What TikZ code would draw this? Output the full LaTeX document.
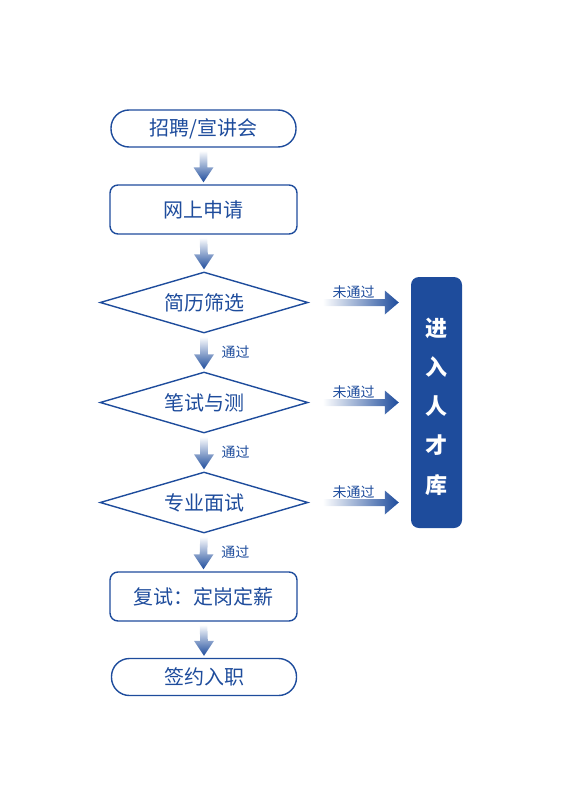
\documentclass[tikz,border=0pt]{standalone}
\usepackage{fontspec}
\setmainfont{Noto Sans CJK SC}
\usetikzlibrary{shapes.geometric, calc}
\definecolor{hrblue}{RGB}{30,76,156}

\tikzset{
    stadium/.style={draw=hrblue, line width=1.4pt, text=hrblue, rounded corners=18pt,
        minimum width=185pt, minimum height=37pt, font=\fontsize{20}{20}\selectfont},
    stepbox/.style={draw=hrblue, line width=1.4pt, text=hrblue, rounded corners=8pt,
        minimum width=187pt, minimum height=49pt, font=\fontsize{20}{20}\selectfont},
    check/.style={diamond, aspect=3.4, draw=hrblue, line width=1.4pt, text=hrblue, inner sep=1pt,
        minimum width=208pt, minimum height=61pt, font=\fontsize{20}{20}\selectfont},
    passlbl/.style={text=hrblue, font=\fontsize{14}{14}\selectfont},
    pool/.style={fill=hrblue, rounded corners=8pt, minimum width=51pt, minimum height=251pt,
        text=white, align=center, font=\fontsize{22}{39.5}\selectfont\bfseries}
}

\begin{document}
\begin{tikzpicture}[x=1pt, y=-1pt]
    \useasboundingbox (0, 0) rectangle (560, 792);

    \node[stadium] (talk) at (203.5, 128.5) {招聘/宣讲会};
    \node[stepbox] (apply) at (203.5, 209.5) {网上申请};
    \node[check] (screen) at (204, 302.5) {简历筛选};
    \node[check] (exam) at (204, 402.5) {笔试与测};
    \node[check] (interview) at (204, 502.5) {专业面试};
    \node[stepbox] (retest) at (203.5, 596.5) {复试：定岗定薪};
    \node[stadium] (sign) at (204, 677) {签约入职};
    \node[pool] (talent) at (436.5, 402.5) {\raisebox{-90.5pt}[0pt][0pt]{\shortstack{进\\[15.3pt]入\\[15.3pt]人\\[15.3pt]才\\[15.3pt]库}}};

    % down arrows
    \foreach \a/\b in {talk/apply, apply/screen, screen/exam, exam/interview, interview/retest, retest/sign}
        \shade[top color=white, middle color=hrblue!75, bottom color=hrblue]
            ($(\a.south)+(-3.8, 3)$) -- ($(\b.north)+(-3.8, -17)$) -- ($(\b.north)+(-10, -17)$)
            -- ($(\b.north)+(0, -2)$) -- ($(\b.north)+(10, -17)$) -- ($(\b.north)+(3.8, -17)$)
            -- ($(\a.south)+(3.8, 3)$) -- cycle;

    \foreach \a/\b in {screen/exam, exam/interview, interview/retest}
        \node[passlbl, anchor=west] (pass-\a) at ($(\a.south)!0.5!(\b.north)+(14, 0)$) {通过};

    % failed -> talent pool
    \foreach \a in {screen, exam, interview} {
        \path (\a.east -| talent.west) coordinate (\a-end);
        \shade[left color=white, middle color=hrblue!70, right color=hrblue]
            ($(\a.east)+(14, -3.5)$) -- ($(\a-end)+(-26, -3.5)$) -- ($(\a-end)+(-26, -12)$)
            -- ($(\a-end)+(-12, 0)$) -- ($(\a-end)+(-26, 12)$) -- ($(\a-end)+(-26, 3.5)$)
            -- ($(\a.east)+(14, 3.5)$) -- cycle;
        \node[passlbl] (fail-\a) at ($(\a.east)+(45, -10)$) {未通过};
    }
\end{tikzpicture}
\end{document}
